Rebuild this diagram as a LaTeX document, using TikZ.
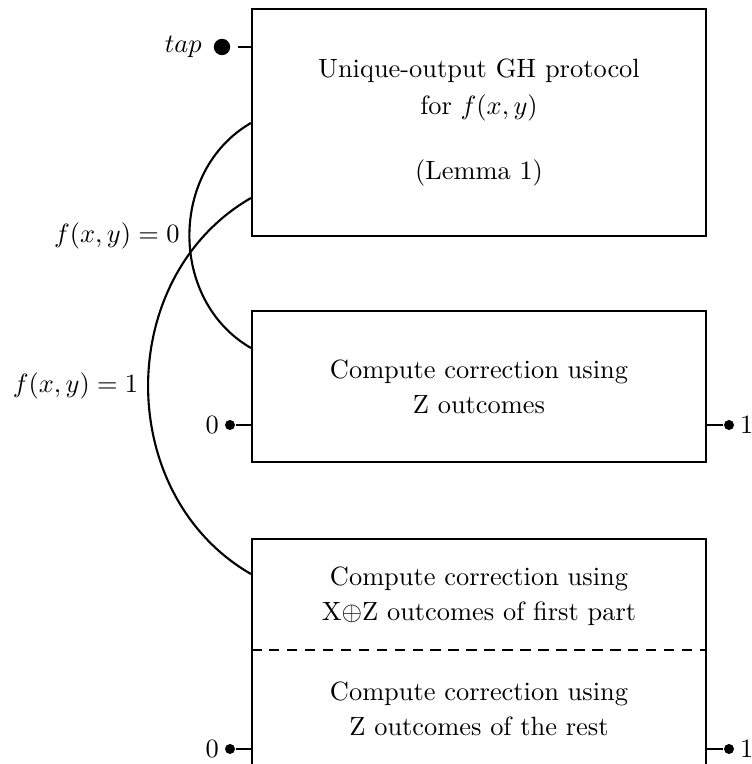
\documentclass[tikz,border=0pt]{standalone}
\usetikzlibrary{calc}
\begin{document}
\begin{tikzpicture}[x=0.3788pt,y=0.3788pt,
  every node/.style={font=\fontsize{10}{13.25}\selectfont},
  box/.style={draw,thick,rectangle,minimum width=171.98pt,inner sep=0pt,align=center},
  txt/.style={align=center},
  conn/.style={thick},
  bigdot/.style={circle,fill,inner sep=0pt,minimum size=6.2pt},
  smalldot/.style={circle,fill,inner sep=0pt,minimum size=3.8pt}]
\useasboundingbox (0,0) rectangle (751,764);
\clip (0,0) rectangle (751,764);

% boxes
\node[box,minimum height=85.99pt] (b1) at (479,641.5)
  {Unique-output GH protocol\\[1.1pt] for $f(x,y)$\\[11.35pt] (Lemma 1)};
\node[box,minimum height=57.2pt] (b2) at (479,377.5)
  {Compute correction using\\ Z outcomes};
\node[box,minimum height=91.29pt] (b3) at (479,104.5) {};
\node[txt] (t3a) at (479,168) {Compute correction using\\ X$\oplus$Z outcomes of first part};
\node[txt] (t3b) at (479,55.6) {Compute correction using\\ Z outcomes of the rest};
\coordinate (dl) at (0,114);
\draw[thick,dash pattern=on 4pt off 2.8pt] (b3.west |- dl) -- (b3.east |- dl);

% tap
\node[bigdot,label={[inner sep=4.2pt]left:$tap$}] (tap) at (222,717) {};
\draw[conn,shorten <=2.65pt] (tap) -- (tap -| b1.west);

% terminals
\node[smalldot,label={[inner sep=1.9pt]left:0}] (z0a) at (230,339) {};
\draw[conn] (z0a) -- (z0a -| b2.west);
\node[smalldot,label={[inner sep=1.9pt]right:1}] (z1a) at (729,339) {};
\draw[conn] (z1a) -- (z1a -| b2.east);
\node[smalldot,label={[inner sep=1.9pt]left:0}] (z0b) at (230,15) {};
\draw[conn] (z0b) -- (z0b -| b3.west);
\node[smalldot,label={[inner sep=1.9pt]right:1}] (z1b) at (729,15) {};
\draw[conn] (z1b) -- (z1b -| b3.east);

% curves
\coordinate (y1) at (0,641);
\coordinate (y2) at (0,416);
\coordinate (y3) at (0,566);
\coordinate (y4) at (0,190);
\draw[conn] (b1.west |- y1) to[out=210,in=150,looseness=1.08]
  node[midway,left] {$f(x,y)=0$} (b2.west |- y2);
\draw[conn] (b1.west |- y3) to[out=210,in=150,looseness=1.08]
  node[midway,left] {$f(x,y)=1$} (b3.west |- y4);
\end{tikzpicture}
\end{document}
